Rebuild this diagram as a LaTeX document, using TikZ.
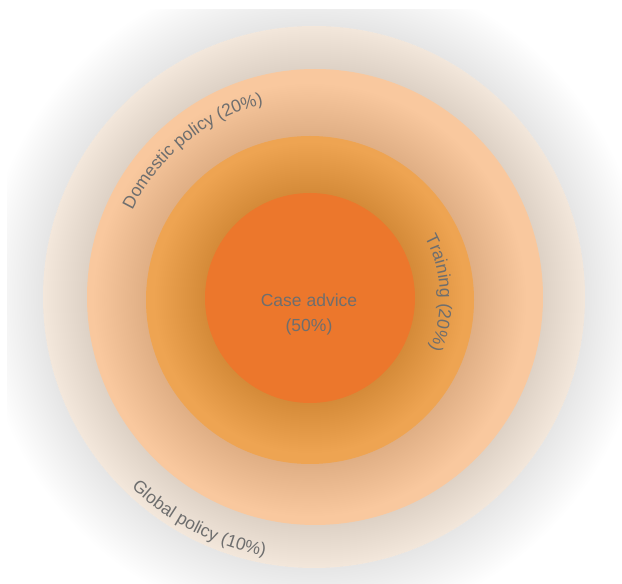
\documentclass[tikz,border=0pt]{standalone}
\usepackage{fontspec}
\setmainfont{Liberation Sans}
\usetikzlibrary{decorations.text}
\definecolor{ringouter}{HTML}{F7EBDF}
\definecolor{ringdomestic}{HTML}{F9C89E}
\definecolor{ringtraining}{HTML}{EEA452}
\definecolor{ringcase}{HTML}{EC772C}
\definecolor{labelgray}{RGB}{110,110,110}
\newcommand{\ringshadow}[4]{%
  \foreach \k in {1,...,25}{%
    \fill[black, opacity=#4] #1 circle [radius={(#2+\k*#3/25)*1pt}];
  }}
\newcommand{\lblfont}{\fontsize{17.5}{25}\selectfont}
\tikzset{
  disc/.style={circle, inner sep=0pt, draw=none}
}
\begin{document}
\begin{tikzpicture}[x=1pt,y=1pt]
\useasboundingbox (0,0) rectangle (622,584);
\fill[white] (0,0) rectangle (622,584);
\coordinate (mid) at (312,286);
% outer shadow
\begin{scope}
  \clip (7,0) rectangle (622,574);
  \ringshadow{(314,287)}{271}{60}{0.0035}
\end{scope}
\node[disc, fill=ringouter, minimum size=542pt] (outer) at (314,287) {};
\begin{scope}
  \clip (314,287) circle [radius=271pt];
  \ringshadow{(315,287)}{228}{50}{0.0045}
\end{scope}
\node[disc, fill=ringdomestic, minimum size=456pt] (domestic) at (315,287) {};
\ringshadow{(310,284)}{164}{52}{0.0045}
\node[disc, fill=ringtraining, minimum size=328pt] (training) at (310,284) {};
\ringshadow{(310,286)}{105}{50}{0.0045}
\node[disc, fill=ringcase, minimum size=210pt] (case) at (310,286) {};
% labels
\node[align=center, text=labelgray, font=\lblfont] (caselbl) at (309,269.5) {Case advice\\(50\%)};
\path[decorate, decoration={text along path, text align=center, text color=labelgray,
  text={|\lblfont|Domestic policy (20{\%})}}]
  ([shift={(180:200pt)}]mid) arc[start angle=180, end angle=78, radius=200pt];
\path[decorate, decoration={text along path, text align=center, text color=labelgray,
  text={|\lblfont|Training (20{\%})}}]
  ([shift={(45:128pt)}]mid) arc[start angle=45, end angle=-40, radius=128pt];
\path[decorate, decoration={text along path, text align=center, text color=labelgray,
  text={|\lblfont|Global policy (10{\%})}}]
  ([shift={(200:262pt)}]mid) arc[start angle=200, end angle=286, radius=262pt];
\end{tikzpicture}
\end{document}
